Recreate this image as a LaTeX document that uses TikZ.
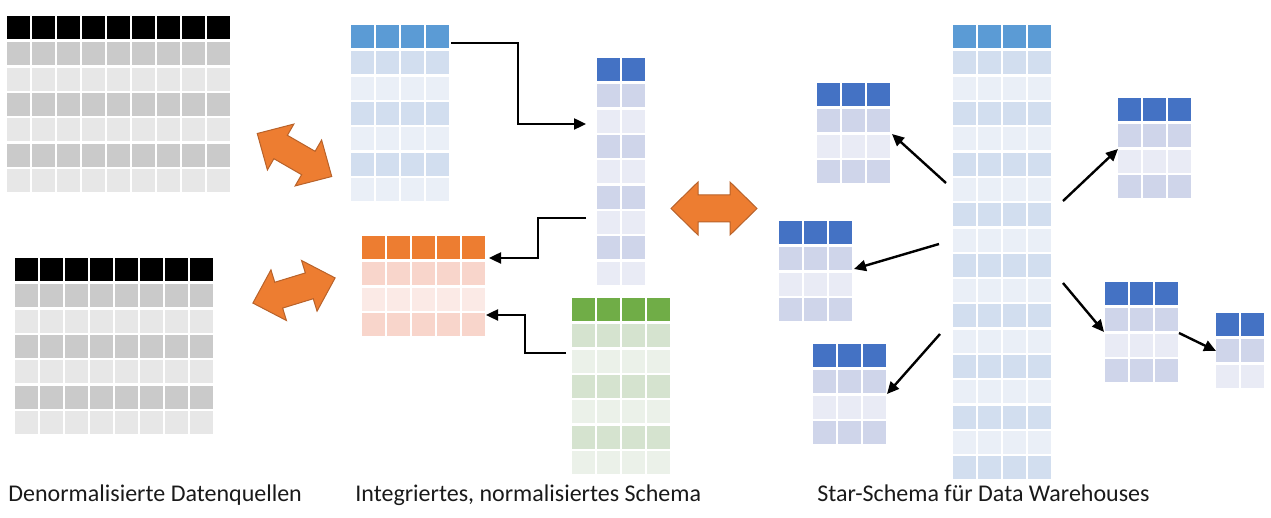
\documentclass[tikz,border=0pt]{standalone}
\usepackage{fontspec}
\setmainfont{Carlito}
\usetikzlibrary{arrows.meta,fit}

% table palettes: header / dark band / light band
\definecolor{grayD}{HTML}{CACACA}
\definecolor{grayL}{HTML}{E7E7E7}
\definecolor{accA}{HTML}{5B9BD5}
\definecolor{accAD}{HTML}{D2DEEF}
\definecolor{accAL}{HTML}{EAEFF7}
\definecolor{accB}{HTML}{4472C4}
\definecolor{accBD}{HTML}{CFD5EA}
\definecolor{accBL}{HTML}{E9EBF5}
\definecolor{accC}{HTML}{ED7D31}
\definecolor{accCD}{HTML}{F8D5CB}
\definecolor{accCL}{HTML}{FBEAE6}
\definecolor{accD}{HTML}{70AD47}
\definecolor{accDD}{HTML}{D5E3CF}
\definecolor{accDL}{HTML}{EBF1E9}
\definecolor{arrowFill}{HTML}{ED7D31}
\definecolor{arrowEdge}{HTML}{B8622A}
\definecolor{labelText}{HTML}{1A1A1A}

\def\colpitch{25}
\def\rowpitch{25.3}

% #1 name, #2 left, #3 top, #4 columns, #5 body rows, #6 header, #7 dark band, #8 light band
\newcommand{\datatable}[8]{%
  \foreach \c in {1,...,#4}{%
    \fill[fill=#6] ({#2+(\c-1)*\colpitch},#3) rectangle ++(23,23);
    \foreach \r in {1,...,#5}{%
      \ifodd\r\relax\def\bandcol{#7}\else\def\bandcol{#8}\fi
      \fill[fill=\bandcol] ({#2+(\c-1)*\colpitch},{#3+26.5+(\r-1)*\rowpitch}) rectangle ++(23,23);
    }%
  }%
  \node[fit={(#2,#3) ({#2+#4*\colpitch-2},{#3+26.5+#5*\rowpitch-2})},inner sep=0pt] (#1) {};
}

\tikzset{
  link/.style={draw=black,line width=1.2pt,line join=miter,-{Triangle[length=6pt,width=5.5pt]}},
  caption/.style={anchor=base west,inner sep=0pt,text=labelText,font=\fontsize{12}{14}\selectfont},
  dblarrow/.pic={
    \filldraw[fill=arrowFill,draw=arrowEdge,line width=0.5pt,line join=miter]
      (-43,0) -- (-16,-26.5) -- (-16,-13.5) -- (16,-13.5) -- (16,-26.5) -- (43,0)
      -- (16,26.5) -- (16,13.5) -- (-16,13.5) -- (-16,26.5) -- cycle;
  }
}

\begin{document}
\begin{tikzpicture}[x=0.5pt,y=-0.5pt]
\useasboundingbox (0,0) rectangle (1271,518);

% denormalised sources
\datatable{srcA}{7}{16}{9}{6}{black}{grayD}{grayL}
\datatable{srcB}{15}{258}{8}{6}{black}{grayD}{grayL}

% integrated, normalised schema
\datatable{nrmA}{351}{25}{4}{6}{accA}{accAD}{accAL}
\datatable{nrmB}{597}{58}{2}{8}{accB}{accBD}{accBL}
\datatable{nrmC}{362}{236}{5}{3}{accC}{accCD}{accCL}
\datatable{nrmD}{572}{298}{4}{6}{accD}{accDD}{accDL}

% star schema: fact table and dimensions
\datatable{fact}{953}{25}{4}{17}{accA}{accAD}{accAL}
\datatable{dimA}{817}{83}{3}{3}{accB}{accBD}{accBL}
\datatable{dimB}{779}{221}{3}{3}{accB}{accBD}{accBL}
\datatable{dimC}{813}{344}{3}{3}{accB}{accBD}{accBL}
\datatable{dimD}{1118}{98}{3}{3}{accB}{accBD}{accBL}
\datatable{dimE}{1105}{282}{3}{3}{accB}{accBD}{accBL}
\datatable{dimF}{1216}{313}{2}{2}{accB}{accBD}{accBL}

% two-way transformation arrows
\pic[rotate=-30] at (294.5,155) {dblarrow};
\pic[rotate=17] at (294,290.5) {dblarrow};
\pic at (714,208.5) {dblarrow};

% connector end points
\coordinate (aS) at (451,43);
\coordinate (aE) at (586,124);
\coordinate (bS) at (586,218);
\coordinate (bE) at (489,258);
\coordinate (cS) at (566,353);
\coordinate (cE) at (486,315);
\coordinate (f1) at (946,183);
\coordinate (d1) at (892,134);
\coordinate (f2) at (939,244);
\coordinate (d2) at (854,269);
\coordinate (f3) at (940,334);
\coordinate (d3) at (887,394);
\coordinate (f4) at (1063,201);
\coordinate (d4) at (1118,149);
\coordinate (f5) at (1063,283);
\coordinate (d5) at (1104,332);
\coordinate (e5) at (1179,333);
\coordinate (d6) at (1216,351);

% foreign-key references in the normalised schema
\draw[link] (aS) -- (518,43) -- (518,124) -- (aE);
\draw[link] (bS) -- (538,218) -- (538,258) -- (bE);
\draw[link] (cS) -- (525,353) -- (525,315) -- (cE);

% star references
\draw[link] (f1) -- (d1);
\draw[link] (f2) -- (d2);
\draw[link] (f3) -- (d3);
\draw[link] (f4) -- (d4);
\draw[link] (f5) -- (d5);
\draw[link] (e5) -- (d6);

% captions
\node[caption] (capA) at (8,502) {Denormalisierte Datenquellen};
\node[caption] (capB) at (355,502) {Integriertes, normalisiertes Schema};
\node[caption] (capC) at (817,502) {Star-Schema für Data Warehouses};
\end{tikzpicture}
\end{document}
